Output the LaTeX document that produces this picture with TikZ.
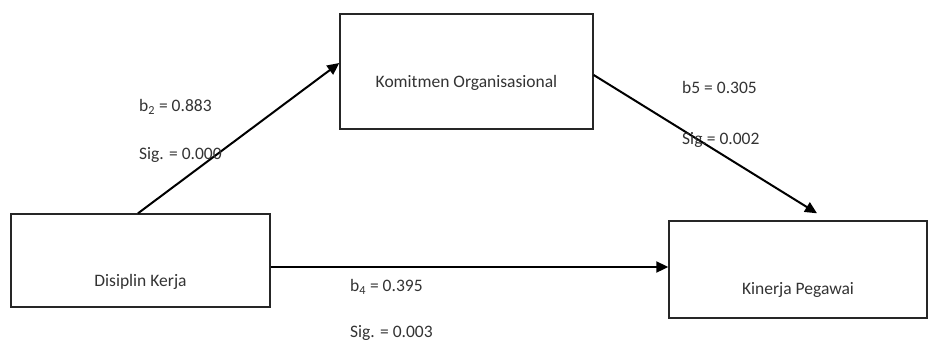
\documentclass[tikz,border=0pt]{standalone}
\usepackage{fontspec}
\setmainfont{Carlito}
\usetikzlibrary{arrows.meta}
\begin{document}
\begin{tikzpicture}[x=1pt,y=-1pt,
  box/.style={draw=black!85,line width=1.4pt,rectangle,inner sep=0pt},
  txt/.style={font=\fontsize{17.5}{21}\selectfont,text=black!80,inner sep=0pt},
  lbl/.style={font=\fontsize{17.5}{21}\selectfont,text=black!80,inner sep=0pt,anchor=west},
  conn/.style={line width=2pt,-{Triangle[length=12pt,width=11pt]}}]
\useasboundingbox[fill=white] (0,0) rectangle (928,341);
\node[box,minimum width=253pt,minimum height=115pt] (km) at (466.5,71.5) {};
\node[box,minimum width=259pt,minimum height=93pt] (dk) at (140.5,260.5) {};
\node[box,minimum width=258pt,minimum height=97pt] (kp) at (798,269.5) {};
\node[txt] (kmt) at (466.5,83) {Komitmen Organisasional};
\node[txt] (dkt) at (140.5,282) {Disiplin Kerja};
\node[txt] (kpt) at (798,290) {Kinerja Pegawai};
\draw[conn] ([xshift=-2.5pt]dk.north) -- ([yshift=8.5pt]km.west);
\draw[conn] ([yshift=-3.5pt]km.east) -- ([xshift=19pt,yshift=7pt]kp.north);
\draw[conn] ([yshift=-6.5pt]dk.east) -- ([yshift=2.5pt]kp.west);
\node[lbl] (l1) at (139,107) {b\textsubscript{2} = 0.883};
\node[lbl] (l2) at (139,155) {Sig. = 0.000};
\node[lbl] (l3) at (682,87) {b5 = 0.305};
\node[lbl] (l4) at (682,140) {Sig.= 0.002};
\node[lbl] (l5) at (350,287) {b\textsubscript{4} = 0.395};
\node[lbl] (l6) at (350,333) {Sig. = 0.003};
\end{tikzpicture}
\end{document}
